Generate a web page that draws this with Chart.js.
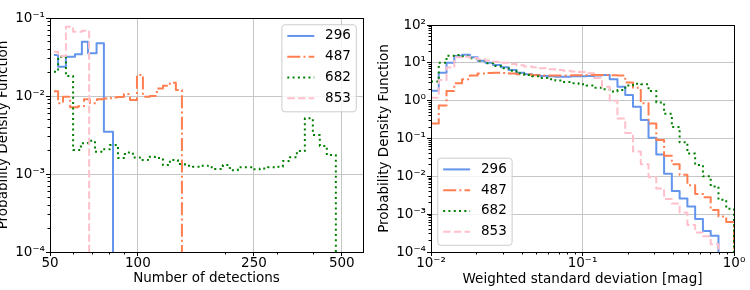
<!DOCTYPE html>
<html>
<head>
<meta charset="utf-8">
<title>PDF of detections and weighted standard deviation</title>
<script src="https://cdn.jsdelivr.net/npm/chart.js@4.4.1/dist/chart.umd.min.js"></script>
<style>
  html, body { margin: 0; padding: 0; background: #fff; }
  .row { display: flex; width: 750px; height: 290px; }
  canvas { display: block; }
</style>
</head>
<body>
<div class="row">
  <canvas id="detChart" width="375" height="290"></canvas>
  <canvas id="sigmaChart" width="375" height="290"></canvas>
</div>
<script>
// ---- left panel: number of detections (bin edges + density per bin) ----
const detEdges296 = [51.6, 53.3, 56.7, 60.9, 64.3, 67.5, 72.2, 76.5, 82.2];
const detPdf296 = [0.0336, 0.0238, 0.0319, 0.0343, 0.0497, 0.0352, 0.0474, 0.00348];

const detEdges487 = [51.6, 53.3, 55.4, 58.6, 62.4, 65.4, 68.5, 72.4, 76.5, 80.9, 84.8,
  89.6, 94.0, 99.3, 104.1, 110.0, 116.2, 121.9, 128.8, 135.0, 141.6];
const detPdf487 = [0.0115, 0.0081, 0.0098, 0.0072, 0.0074, 0.0091, 0.0081, 0.0091, 0.0093, 0.0096,
  0.0097, 0.0106, 0.0089, 0.0186, 0.0098, 0.0100, 0.0125, 0.0135, 0.0148, 0.0119];

const detEdges682 = [51.6, 53.3, 56.7, 60.0, 63.8, 67.5, 71.3, 75.9, 80.2, 85.5, 90.3, 96.2, 101.7,
  108.3, 114.4, 121.9, 128.8, 137.2, 145.0, 154.4, 163.2, 173.8, 183.7, 195.6, 206.7, 220.2,
  232.7, 247.9, 261.9, 279.0, 294.8, 314.0, 331.8, 350.7, 373.5, 397.8, 420.4, 444.2, 477.0];
const detPdf682 = [0.0205, 0.0319, 0.018, 0.00203, 0.00248, 0.00267, 0.00193, 0.00207, 0.00236,
  0.0016, 0.00188, 0.00163, 0.00151, 0.00167, 0.0016, 0.0013, 0.00151, 0.00134, 0.00128, 0.00124,
  0.00128, 0.00122, 0.00116, 0.0013, 0.00112, 0.00122, 0.00122, 0.00115, 0.00118, 0.00122,
  0.00124, 0.00147, 0.00164, 0.00197, 0.00518, 0.00316, 0.00229, 0.00175];

const detEdges853 = [51.6, 53.3, 56.7, 60.0, 64.3, 68.1];
const detPdf853 = [0.037, 0.0326, 0.0774, 0.0667, 0.0687];

const detTicks = [50, 100, 250, 500];
const detTickLabels = ['50', '100', '250', '500'];
const detMinor = [60, 70, 80, 90, 200, 300, 400];
const leftPdfTicks = [1e-4, 1e-3, 1e-2, 1e-1];
const leftPdfLabels = ['10⁻⁴', '10⁻³', '10⁻²', '10⁻¹'];

// ---- right panel: weighted standard deviation, shared log bins ----
const sigmaEdges = [0.01, 0.01125, 0.01266, 0.01425, 0.01604, 0.01805, 0.02031, 0.02286,
  0.02572, 0.02894, 0.03257, 0.03665, 0.04125, 0.04642, 0.05224, 0.05878, 0.06615, 0.07444,
  0.08377, 0.09427, 0.1061, 0.1194, 0.1344, 0.1512, 0.1701, 0.1915, 0.2154, 0.2425, 0.2728,
  0.3070, 0.3455, 0.3888, 0.4376, 0.4924, 0.5541, 0.6236, 0.7017, 0.7897, 0.8887, 1.0];
const sigmaPdf296 = [1.83, 5.5, 10.1, 15.2, 16.4, 14.0, 11.4, 10.1, 8.8, 7.6, 6.5, 5.5, 5.0, 4.8,
  4.5, 4.4, 4.3, 4.3, 4.4, 4.4, 4.5, 4.6, 4.8, 3.7, 2.34, 1.41, 0.69, 0.31, 0.105, 0.038, 0.0117,
  0.0041, 0.0026, 0.0016, 0.00074, 0.00036, 0.00027];
const sigmaPdf487 = [0.25, 0.75, 1.8, 2.9, 3.7, 4.6, 5.2, 5.4, 5.5, 5.4, 5.2, 5.0, 4.9, 4.7, 4.6,
  4.6, 4.6, 4.6, 4.7, 4.7, 4.8, 4.8, 4.8, 4.7, 4.6, 3.0, 2.2, 0.85, 0.25, 0.091, 0.035, 0.021,
  0.011, 0.0058, 0.0034, 0.0028, 0.00129, 0.00087, 0.00062];
const sigmaPdf682 = [3.2, 10, 15.5, 16, 15, 13.2, 11.5, 9.7, 8.3, 7.2, 6.2, 5.3, 4.8, 4.4, 4.0,
  3.7, 3.4, 3.1, 2.9, 2.7, 2.5, 2.2, 2.0, 1.75, 1.9, 2.5, 2.8, 2.7, 1.8, 0.9, 0.45, 0.2, 0.08,
  0.04, 0.02, 0.01, 0.0054, 0.0024, 0.0014];
const sigmaPdf853 = [1.2, 3.5, 7.5, 14, 14.5, 13.5, 12.5, 11.5, 10.7, 10, 9.3, 8.6, 8.0, 7.6,
  7.2, 6.8, 6.5, 6.2, 5.9, 5.7, 5.3, 4.0, 2.35, 1.0, 0.34, 0.14, 0.045, 0.021, 0.0094, 0.0048,
  0.0025, 0.0019, 0.0011, 0.00052, 0.00033, 0.00026, 0.00016];

const sigmaTicks = [0.01, 0.1, 1];
const sigmaTickLabels = ['10⁻²', '10⁻¹', '10⁰'];
const sigmaMinor = [0.02, 0.03, 0.04, 0.05, 0.06, 0.07, 0.08, 0.09, 0.2, 0.3, 0.4, 0.5, 0.6, 0.7, 0.8, 0.9];
const rightPdfTicks = [1e-4, 1e-3, 1e-2, 1e-1, 1, 10, 100];
const rightPdfLabels = ['10⁻⁴', '10⁻³', '10⁻²', '10⁻¹', '10⁰', '10¹', '10²'];

Chart.defaults.font.family = "'DejaVu Sans', sans-serif";
Chart.defaults.font.size = 13.5;
Chart.defaults.color = '#000';

const FLOOR = 1e-6; // below the axis: the step closes down to the bottom
const lineStyles = {
  '296': { borderColor: '#6495ED', borderDash: [], order: 4 },
  '487': { borderColor: '#FF7F50', borderDash: [13, 3.2, 2, 3.2], order: 3 },
  '682': { borderColor: '#008000', borderDash: [2, 3.3], order: 2 },
  '853': { borderColor: '#FFC0CB', borderDash: [7.5, 3.2], order: 1 }
};

function stepSet(label, edges, pdf) {
  const pts = pdf.map((v, i) => ({ x: edges[i], y: v }));
  pts.push({ x: edges[pdf.length], y: FLOOR });
  return Object.assign({
    label,
    data: pts,
    stepped: true,
    borderWidth: 2,
    pointRadius: 0,
    fill: false,
    borderJoinStyle: 'round'
  }, lineStyles[label]);
}

// minor log ticks for the y axes
function logMinors(lo, hi) {
  const out = [];
  for (let d = lo; d < hi; d *= 10) {
    for (let m = 2; m <= 9; m++) out.push(m * d);
  }
  return out;
}

function logAxis(min, max, ticks, labels, title, titlePad, size, isX) {
  return {
    type: 'logarithmic',
    position: isX ? 'bottom' : 'left',
    min, max,
    afterBuildTicks: s => { s.ticks = ticks.map(v => ({ value: v })); },
    afterFit: s => { if (isX) s.height = size; else s.width = size; },
    ticks: {
      autoSkip: false, maxRotation: 0, minRotation: 0, padding: 1,
      color: '#000', font: { size: 13.5, lineHeight: 1 },
      callback: v => labels[ticks.indexOf(v)]
    },
    grid: { color: '#c6c6c6', lineWidth: 1, tickLength: 4, tickColor: '#000', tickWidth: 1 },
    border: { display: false },
    title: { display: true, text: title, color: '#000', font: { size: 13.5 }, padding: titlePad }
  };
}

// frame (spines) and minor tick marks
const axesFrame = {
  id: 'axesFrame',
  afterDatasetsDraw(chart, args, opts) {
    const { ctx, chartArea: a, scales } = chart;
    const al = p => Math.round(p - 0.5) + 0.5;
    ctx.save();
    ctx.strokeStyle = '#000';
    ctx.lineWidth = 1;
    ctx.setLineDash([]);
    ctx.beginPath();
    (opts.xMinor || []).forEach(v => {
      const px = al(scales.x.getPixelForValue(v));
      ctx.moveTo(px, a.bottom); ctx.lineTo(px, a.bottom + 2.5);
    });
    (opts.yMinor || []).forEach(v => {
      const py = al(scales.y.getPixelForValue(v));
      ctx.moveTo(a.left, py); ctx.lineTo(a.left - 2.5, py);
    });
    ctx.stroke();
    const l = al(a.left), t = al(a.top), r = al(a.right), b = al(a.bottom);
    ctx.strokeRect(l, t, r - l, b - t);
    ctx.restore();
  }
};

// matplotlib-like legend box inside the axes
const legendBox = {
  id: 'legendBox',
  afterDraw(chart, args, opts) {
    const { ctx, chartArea: a } = chart;
    const fs = 13.5;
    const pad = 0.4 * fs, handle = 2 * fs, textGap = 0.8 * fs, rowGap = 0.5 * fs, rowH = 14, margin = 0.5 * fs;
    const sets = chart.data.datasets;
    ctx.save();
    ctx.font = fs + "px 'DejaVu Sans'";
    const textW = Math.max(...sets.map(d => ctx.measureText(d.label).width));
    const w = 2 * pad + handle + textGap + textW;
    const h = 2 * pad + sets.length * rowH + (sets.length - 1) * rowGap;
    const x = opts.corner === 'upper right' ? a.right - margin - w : a.left + margin;
    const y = opts.corner === 'upper right' ? a.top + margin : a.bottom - margin - h;
    ctx.beginPath();
    if (ctx.roundRect) ctx.roundRect(x, y, w, h, 3); else ctx.rect(x, y, w, h);
    ctx.fillStyle = 'rgba(255,255,255,0.8)';
    ctx.fill();
    ctx.strokeStyle = '#cccccc';
    ctx.lineWidth = 1;
    ctx.stroke();
    sets.forEach((d, i) => {
      const cy = y + pad + rowH / 2 - 1.2 + i * (rowH + rowGap);
      ctx.beginPath();
      ctx.setLineDash(d.borderDash || []);
      ctx.strokeStyle = d.borderColor;
      ctx.lineWidth = d.borderWidth;
      ctx.moveTo(x + pad, cy);
      ctx.lineTo(x + pad + handle, cy);
      ctx.stroke();
      ctx.setLineDash([]);
      ctx.fillStyle = '#000';
      ctx.textBaseline = 'middle';
      ctx.textAlign = 'left';
      ctx.fillText(d.label, x + pad + handle + textGap, cy);
    });
    ctx.restore();
  }
};

function baseOptions(pad, xAxis, yAxis, frameOpts, corner) {
  return {
    responsive: false,
    animation: false,
    devicePixelRatio: 1,
    layout: { padding: pad },
    plugins: {
      legend: { display: false },
      tooltip: { enabled: false },
      axesFrame: frameOpts,
      legendBox: { corner }
    },
    scales: { x: xAxis, y: yAxis }
  };
}

new Chart(document.getElementById('detChart'), {
  type: 'line',
  data: {
    datasets: [
      stepSet('296', detEdges296, detPdf296),
      stepSet('487', detEdges487, detPdf487),
      stepSet('682', detEdges682, detPdf682),
      stepSet('853', detEdges853, detPdf853)
    ]
  },
  options: baseOptions(
    { left: 0, right: 12, top: 18, bottom: 0 },
    logAxis(50, 591, detTicks, detTickLabels, 'Number of detections', { top: 0, bottom: 3 }, 38, true),
    logAxis(1e-4, 1e-1, leftPdfTicks, leftPdfLabels, 'Probability Density Function', { top: -4.5, bottom: 0 }, 50, false),
    { xMinor: detMinor, yMinor: logMinors(1e-4, 1e-1) },
    'upper right'
  ),
  plugins: [axesFrame, legendBox]
});

new Chart(document.getElementById('sigmaChart'), {
  type: 'line',
  data: {
    datasets: [
      stepSet('296', sigmaEdges, sigmaPdf296),
      stepSet('487', sigmaEdges, sigmaPdf487),
      stepSet('682', sigmaEdges, sigmaPdf682),
      stepSet('853', sigmaEdges, sigmaPdf853)
    ]
  },
  options: baseOptions(
    { left: 0, right: 16, top: 25, bottom: 0 },
    logAxis(0.01, 1, sigmaTicks, sigmaTickLabels, 'Weighted standard deviation [mag]', { top: 0, bottom: 2 }, 38, true),
    logAxis(1e-4, 100, rightPdfTicks, rightPdfLabels, 'Probability Density Function', { top: 1, bottom: 0 }, 56, false),
    { xMinor: sigmaMinor, yMinor: logMinors(1e-4, 100) },
    'lower left'
  ),
  plugins: [axesFrame, legendBox]
});
</script>
</body>
</html>
